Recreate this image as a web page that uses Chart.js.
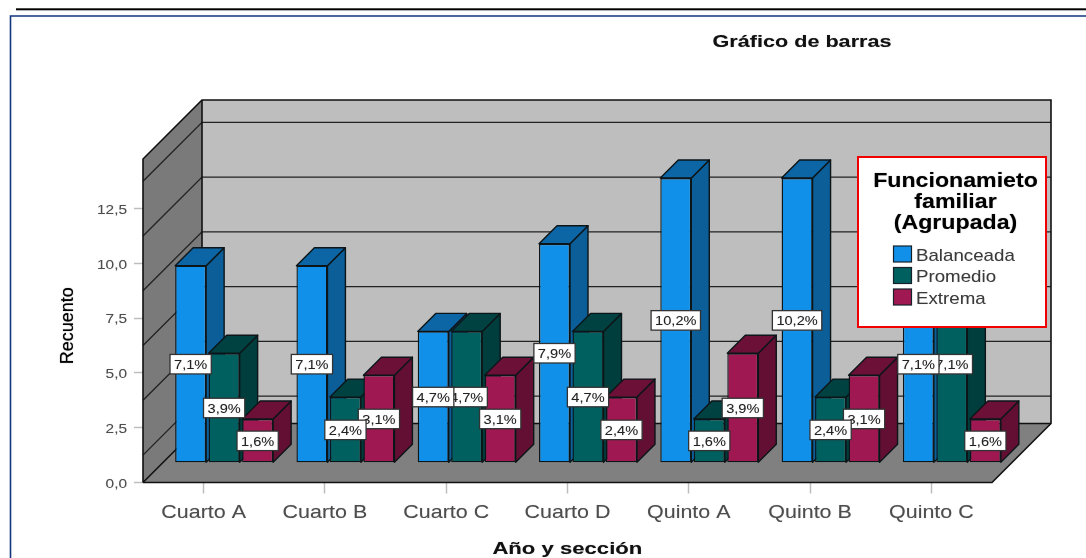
<!DOCTYPE html>
<html><head><meta charset="utf-8">
<style>html,body{margin:0;padding:0;background:#fff;overflow:hidden}canvas{display:block}</style>
<script src="https://cdn.jsdelivr.net/npm/chart.js@4/dist/chart.umd.min.js"></script>
</head><body>
<div style="width:1086px;height:558px"><canvas id="c" width="1086" height="558"></canvas></div>
<script>
const categories = ['Cuarto A','Cuarto B','Cuarto C','Cuarto D','Quinto A','Quinto B','Quinto C'];
const balanceada = [9,9,6,10,13,13,9];
const promedio   = [5,3,6,6,2,3,9];
const extrema    = [2,4,4,3,5,4,2];
const pctBalanceada = ['7,1%','7,1%','4,7%','7,9%','10,2%','10,2%','7,1%'];
const pctPromedio   = ['3,9%','2,4%','4,7%','4,7%','1,6%','2,4%','7,1%'];
const pctExtrema    = ['1,6%','3,1%','3,1%','2,4%','3,9%','3,1%','1,6%'];
const wallGridValues = [1.25,3.75,6.25,8.75,11.25,13.75];
const legendTitle = ['Funcionamieto','familiar','(Agrupada)'];
const ySpan = 14.77, DEPTH = 59, BAR_OFFSET = 20, BAR_DEPTH = 18;
const FAMILY = '"Liberation Sans", Arial, sans-serif';

const stylesOf = [
  {face:'#1190EA', side:'#0B5E98', top:'#0C65A5'},
  {face:'#005F5F', side:'#003D3D', top:'#004242'},
  {face:'#A01852', side:'#620F33', top:'#6D1038'}
];
const pctOf = [pctBalanceada,pctPromedio,pctExtrema];
const EDGE = '#0c1518';

function poly(ctx,pts,fill,stroke,lw){
  ctx.beginPath();pts.forEach((p,i)=>i?ctx.lineTo(p[0],p[1]):ctx.moveTo(p[0],p[1]));ctx.closePath();
  if(fill){ctx.fillStyle=fill;ctx.fill();}
  if(stroke){ctx.strokeStyle=stroke;ctx.lineWidth=lw||1;ctx.lineJoin='round';ctx.stroke();}
}
function soft(c,a){c.shadowColor='rgba(0,0,0,'+a+')';c.shadowBlur=1;}
// widen each text item about its own anchor: renderText translates once per label
function wideItems(obj,name,sx,dy,a){
  const orig=obj[name];
  obj[name]=function(...args){
    const c=this.ctx,tr=c.translate;
    c.save();soft(c,a);c.translate(0,dy);
    c.translate=function(x,y){tr.call(c,x,y);c.scale(sx,1);};
    orig.apply(this,args);
    delete c.translate;
    c.restore();
  };
}
// widen a single centred text about a fixed x
function wideAbout(obj,name,cx,sx,dy,a){
  const orig=obj[name];
  obj[name]=function(...args){
    const c=this.ctx;c.save();soft(c,a);c.translate(cx,dy);c.scale(sx,1);c.translate(-cx,0);
    orig.apply(this,args);c.restore();
  };
}
const scene = {
  id:'scene',
  afterLayout(chart){
    const t=chart.titleBlock; t.left=602; t.right=1002;
    const {x,y}=chart.scales;
    if(!x.__p){x.__p=1;
      wideItems(x,'drawLabels',1.16,3,0.25);
      wideItems(y,'drawLabels',1.16,1.5,0.25);
      wideAbout(x,'drawTitle',568,1.34,1.5,0.4);
      const ot=y.drawTitle;y.drawTitle=function(...a){const c=this.ctx;c.save();soft(c,0.7);c.translate(0,5);ot.apply(this,a);c.restore();};
      wideAbout(t,'draw',802,1.31,3,0.4);
    }
  },
  beforeDraw(chart){
    const c=chart.ctx;c.save();
    c.fillStyle='#fff';c.fillRect(0,0,1086,558);
    c.fillStyle='#000';c.fillRect(16,8.3,1070,2);
    c.strokeStyle='#12367F';c.lineWidth=1.6;
    c.beginPath();c.moveTo(10.5,558);c.lineTo(10.5,16);c.lineTo(1086,16);c.stroke();
    c.restore();
  },
  beforeDatasetsDraw(chart){
    const c=chart.ctx,{x,y}=chart.scales;
    const L=x.left,R=x.right,B=y.getPixelForValue(0),T=y.getPixelForValue(ySpan),D=DEPTH;
    c.save();
    poly(c,[[L+D,T-D],[R+D,T-D],[R+D,B-D],[L+D,B-D]],'#BEBEBE');
    poly(c,[[L,T],[L+D,T-D],[L+D,B-D],[L,B]],'#7A7A7A');
    poly(c,[[L,B],[L+D,B-D],[R+D,B-D],[R,B]],'#808080');
    c.strokeStyle='#222';c.lineWidth=1.4;
    wallGridValues.forEach(v=>{const p=y.getPixelForValue(v);
      c.beginPath();c.moveTo(L,p);c.lineTo(L+D,p-D);c.lineTo(R+D,p-D);c.stroke();});
    c.strokeStyle='#111';c.lineWidth=1.6;
    c.beginPath();c.moveTo(L,B);c.lineTo(L,T);c.lineTo(L+D,T-D);c.lineTo(R+D,T-D);c.lineTo(R+D,B-D);c.lineTo(R,B);c.lineTo(L,B);c.stroke();
    c.beginPath();c.moveTo(L,B);c.lineTo(L+D,B-D);c.lineTo(L+D,T-D);c.moveTo(L+D,B-D);c.lineTo(R+D,B-D);c.stroke();

    c.translate(BAR_OFFSET+0.5,-BAR_OFFSET+0.3);
    chart.getSortedVisibleDatasetMetas().forEach(m=>{
      const s=stylesOf[m.index];
      m.data.forEach(b=>{
        const p=b.getProps(['x','y','base','width'],true);
        const l=p.x-p.width/2,r=p.x+p.width/2,t=p.y,bs=p.base,d=BAR_DEPTH;
        poly(c,[[r,t],[r+d,t-d],[r+d,bs-d],[r,bs]],s.side,EDGE,1.4);
        poly(c,[[l,t],[l+d,t-d],[r+d,t-d],[r,t]],s.top,EDGE,1.4);
      });
      m.controller.draw();
    });
    c.restore();
    return false;
  },
  afterDraw(chart){
    const c=chart.ctx;
    c.save();
    // percentage labels, last series first
    c.textAlign='center';c.textBaseline='middle';
    const sx=1.09;
    [2,1,0].forEach(di=>{
      const m=chart.getDatasetMeta(di);
      m.data.forEach((b,i)=>{
        const p=b.getProps(['x','y','base'],true);
        const cx=p.x+BAR_OFFSET+0.5,cy=(p.y+p.base)/2-BAR_OFFSET+0.5;
        c.font='13.4px '+FAMILY;
        const txt=pctOf[di][i],w=c.measureText(txt).width*sx+8,h=19.5;
        c.shadowBlur=0;
        c.fillStyle='#fff';c.fillRect(cx-w/2,cy-h/2,w,h);
        c.strokeStyle='#333';c.lineWidth=1.3;c.strokeRect(cx-w/2,cy-h/2,w,h);
        c.save();soft(c,0.25);c.translate(cx,cy+1);c.scale(sx,1);
        c.fillStyle='#222';c.fillText(txt,0,0);c.restore();
      });
    });
    // legend
    c.fillStyle='#fff';c.fillRect(858,157,188,170);
    c.strokeStyle='#F00000';c.lineWidth=2;c.strokeRect(858,157,188,170);
    c.font='bold 20.5px '+FAMILY;
    legendTitle.forEach((t,i)=>{
      c.save();soft(c,0.5);c.translate(955.5,181.5+i*21);c.scale(1.13,1);
      c.fillStyle='#000';c.fillText(t,0,0);c.restore();
    });
    c.textAlign='left';c.font='17px '+FAMILY;
    chart.data.datasets.forEach((d,i)=>{
      const yy=246+i*21.5;
      c.fillStyle=d.backgroundColor;c.fillRect(893.5,yy,18,16);
      c.strokeStyle='#16222a';c.lineWidth=1.2;c.strokeRect(893.5,yy,18,16);
      c.save();soft(c,0.2);c.translate(916,yy+10);c.scale(1.1,1);
      c.fillStyle='#3a3a3a';c.fillText(d.label,0,0);c.restore();
    });
    c.restore();
  }
};
const ds=(label,data,i)=>({label,data,backgroundColor:stylesOf[i].face,borderColor:EDGE,borderWidth:1.4,borderSkipped:false,
  categoryPercentage:0.8285,barPercentage:0.925,clip:false});
new Chart(document.getElementById('c'),{
  type:'bar',
  data:{labels:categories,datasets:[ds('Balanceada',balanceada,0),ds('Promedio',promedio,1),ds('Extrema',extrema,2)]},
  options:{
    responsive:false,animation:false,devicePixelRatio:1,
    layout:{padding:{left:57,right:94,top:30,bottom:0}},
    plugins:{
      legend:{display:false},tooltip:{enabled:false},
      title:{display:true,text:'Gráfico de barras',color:'#111',font:{family:FAMILY,size:16.5,weight:'bold',lineHeight:1.2},padding:{top:0,bottom:109.2}}
    },
    scales:{
      x:{
        grid:{offset:false,drawOnChartArea:false,drawTicks:true,tickLength:11,tickColor:'#bdbdbd',tickWidth:1.5},
        border:{display:false},
        ticks:{color:'#4d4d4d',font:{family:FAMILY,size:18.5},padding:5,maxRotation:0,autoSkip:false},
        title:{display:true,text:'Año y sección',color:'#111',font:{family:FAMILY,size:16.5,weight:'bold',lineHeight:1.2},padding:0},
        afterFit(s){s.height=75.5;}
      },
      y:{
        min:0,max:ySpan,
        grid:{drawOnChartArea:false,drawTicks:true,tickLength:9,tickColor:'#bdbdbd',tickWidth:1.5},
        border:{display:false},
        ticks:{stepSize:2.5,includeBounds:false,color:'#4d4d4d',font:{family:FAMILY,size:13.3},padding:7,
          callback:v=>v.toFixed(1).replace('.',',')},
        title:{display:true,text:'Recuento',color:'#000',font:{family:FAMILY,size:18,lineHeight:1.2},padding:0},
        afterFit(s){s.width=86;}
      }
    }
  },
  plugins:[scene]
});
</script></body></html>
